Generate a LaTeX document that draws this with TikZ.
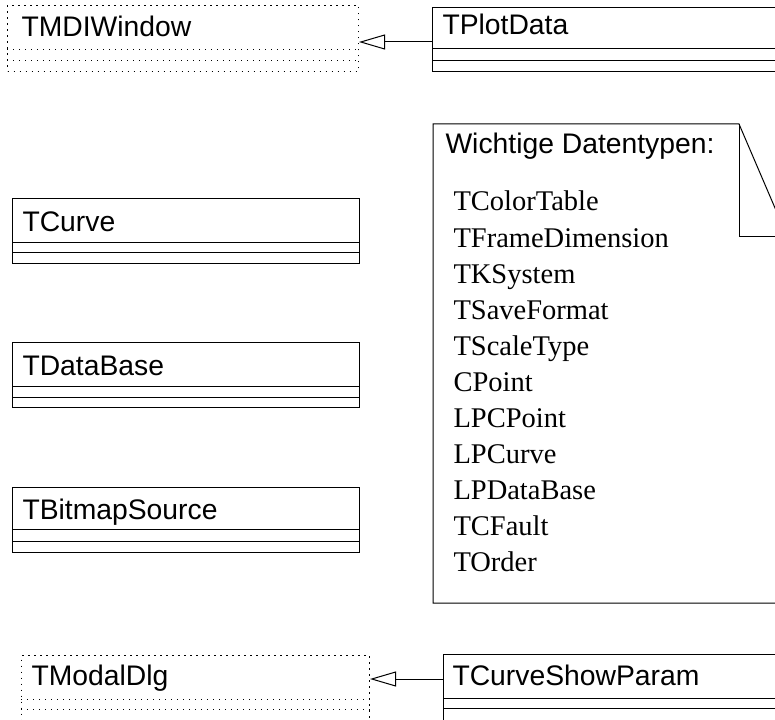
\documentclass[tikz,border=0pt]{standalone}
\usepackage{fontspec}
\setmainfont{Liberation Serif}
\setsansfont{Liberation Sans}
\usetikzlibrary{arrows.meta}
\begin{document}
\begin{tikzpicture}[x=1pt,y=-1pt,
  line width=1pt,
  classbox/.style={draw, rectangle, inner sep=0pt, anchor=north west},
  extbox/.style={classbox, dash pattern=on 1.1pt off 4.9pt},
  cname/.style={anchor=base west, inner sep=0pt, font=\fontsize{28.3}{34}\selectfont\sffamily},
  item/.style={anchor=base west, inner sep=0pt, font=\fontsize{28.5}{34}\selectfont\rmfamily},
  inherit/.style={-{Triangle[open,length=26pt,width=15pt]}},
]
\useasboundingbox (0,0) rectangle (775,719);
\clip (0,0) rectangle (775,719);

% external base classes (dotted)
\node[extbox, minimum width=351pt, minimum height=66pt] (tmdi) at (7,5) {};
\draw[dash pattern=on 1.1pt off 4.9pt] ([yshift=-45pt]tmdi.north west) -- ([yshift=-45pt]tmdi.north east);
\draw[dash pattern=on 1.1pt off 4.9pt] ([yshift=-56pt]tmdi.north west) -- ([yshift=-56pt]tmdi.north east);
\node[cname] (tmdiname) at (21,37) {TMDIWindow};

\node[extbox, minimum width=348pt, minimum height=80pt] (tmodal) at (21,655) {};
\draw[dash pattern=on 1.1pt off 4.9pt] ([yshift=-44pt]tmodal.north west) -- ([yshift=-44pt]tmodal.north east);
\draw[dash pattern=on 1.1pt off 4.9pt] ([yshift=-54pt]tmodal.north west) -- ([yshift=-54pt]tmodal.north east);
\node[cname] (tmodalname) at (31,685) {TModalDlg};

% classes
\node[classbox, minimum width=400pt, minimum height=64pt] (tplot) at (432,7) {};
\draw ([yshift=-42pt]tplot.north west) -- ([yshift=-42pt]tplot.north east);
\draw ([yshift=-54pt]tplot.north west) -- ([yshift=-54pt]tplot.north east);
\node[cname] (tplotname) at (442,35) {TPlotData};

\node[classbox, minimum width=347pt, minimum height=65pt] (tcurve) at (12,198) {};
\draw ([yshift=-44pt]tcurve.north west) -- ([yshift=-44pt]tcurve.north east);
\draw ([yshift=-54pt]tcurve.north west) -- ([yshift=-54pt]tcurve.north east);
\node[cname] (tcurvename) at (22,231) {TCurve};

\node[classbox, minimum width=347pt, minimum height=65pt] (tdb) at (12,342) {};
\draw ([yshift=-44pt]tdb.north west) -- ([yshift=-44pt]tdb.north east);
\draw ([yshift=-55pt]tdb.north west) -- ([yshift=-55pt]tdb.north east);
\node[cname] (tdbname) at (22,375) {TDataBase};

\node[classbox, minimum width=347pt, minimum height=65pt] (tbmp) at (12,487) {};
\draw ([yshift=-42pt]tbmp.north west) -- ([yshift=-42pt]tbmp.north east);
\draw ([yshift=-54pt]tbmp.north west) -- ([yshift=-54pt]tbmp.north east);
\node[cname] (tbmpname) at (22,519) {TBitmapSource};

\node[classbox, minimum width=400pt, minimum height=80pt] (tcsp) at (443,654) {};
\draw ([yshift=-44pt]tcsp.north west) -- ([yshift=-44pt]tcsp.north east);
\draw ([yshift=-54pt]tcsp.north west) -- ([yshift=-54pt]tcsp.north east);
\node[cname] (tcspname) at (452,685) {TCurveShowParam};

% generalisations
\draw[inherit] ([yshift=-35pt]tplot.north west) -- ([yshift=-37pt]tmdi.north east);
\draw[inherit] ([yshift=-25pt]tcsp.north west) -- ([yshift=-24pt]tmodal.north east);

% note with folded corner
\coordinate (noteNW) at (433,124);
\coordinate (foldA) at (739,124);
\coordinate (foldB) at (787,236);
\coordinate (foldC) at (739,236);
\draw (noteNW) -- (foldA) -- (foldB) -- (787,603) -- (433,603) -- cycle;
\draw (foldA) -- (foldC) -- (foldB);
\node[cname] (notehead) at (445,154) {Wichtige Datentypen:};
\foreach \t [count=\k from 0] in {TColorTable,TFrameDimension,TKSystem,TSaveFormat,TScaleType,CPoint,LPCPoint,LPCurve,LPDataBase,TCFault,TOrder}
  \node[item] (item\k) at (453,211+36*\k) {\t};
\end{tikzpicture}
\end{document}
